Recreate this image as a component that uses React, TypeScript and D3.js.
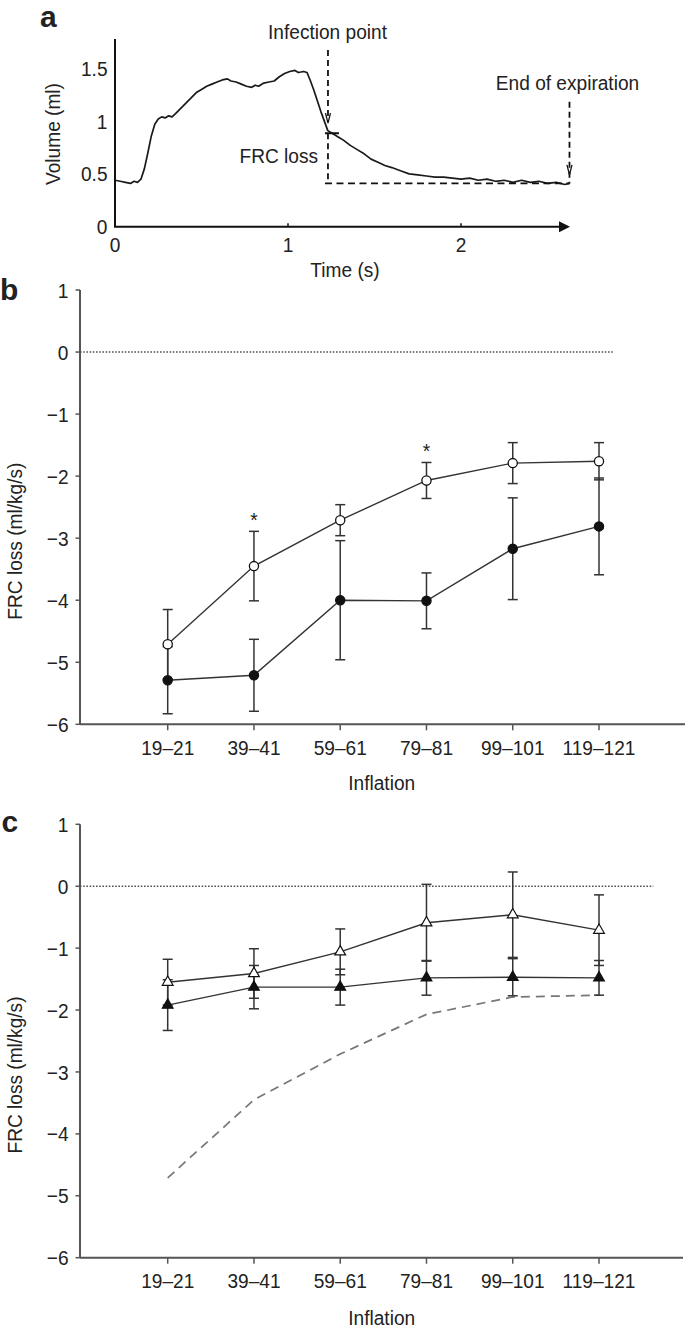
import React from 'react';
import * as d3 from 'd3';

// ---------- Panel a: volume trace ----------
const timeS = [0.0, 0.03, 0.06, 0.09, 0.11, 0.13, 0.15, 0.17, 0.19, 0.21, 0.23, 0.25, 0.27, 0.29, 0.31, 0.33, 0.35, 0.38, 0.41, 0.44, 0.47, 0.5, 0.53, 0.56, 0.59, 0.62, 0.65, 0.67, 0.7, 0.73, 0.76, 0.79, 0.81, 0.83, 0.86, 0.89, 0.92, 0.95, 0.98, 1.01, 1.04, 1.06, 1.09, 1.11, 1.13, 1.15, 1.17, 1.19, 1.21, 1.23, 1.26, 1.29, 1.32, 1.36, 1.4, 1.44, 1.48, 1.52, 1.56, 1.6, 1.65, 1.7, 1.75, 1.8, 1.85, 1.9, 1.95, 2.0, 2.05, 2.1, 2.15, 2.2, 2.25, 2.3, 2.35, 2.4, 2.45, 2.5, 2.55, 2.6, 2.627];
const volumeMl = [0.44, 0.43, 0.42, 0.41, 0.43, 0.42, 0.45, 0.55, 0.7, 0.86, 0.97, 1.02, 1.04, 1.03, 1.05, 1.04, 1.07, 1.12, 1.17, 1.22, 1.27, 1.3, 1.33, 1.35, 1.37, 1.39, 1.4, 1.38, 1.37, 1.35, 1.33, 1.32, 1.34, 1.33, 1.36, 1.37, 1.38, 1.42, 1.45, 1.47, 1.48, 1.46, 1.47, 1.46, 1.38, 1.29, 1.19, 1.09, 1.0, 0.91, 0.88, 0.85, 0.82, 0.77, 0.73, 0.69, 0.64, 0.61, 0.58, 0.56, 0.53, 0.5, 0.49, 0.48, 0.47, 0.47, 0.46, 0.45, 0.46, 0.44, 0.45, 0.43, 0.44, 0.42, 0.44, 0.42, 0.43, 0.41, 0.42, 0.4, 0.41];
const timeTicks = [0, 1, 2];
const volumeTicks = [0, 0.5, 1, 1.5];
const timeAxisEnd = 2.63;
const infectionTime = 1.231;
const endExpTime = 2.627;
const frcTopVol = 0.885;
const frcBottomVol = 0.41;

// ---------- Panels b and c ----------
const inflations = ['19–21', '39–41', '59–61', '79–81', '99–101', '119–121'];
const frcTicks = [1, 0, -1, -2, -3, -4, -5, -6];
// panel b
const openCircleMean = [-4.71, -3.45, -2.71, -2.07, -1.79, -1.76];
const openCircleSE = [0.56, 0.56, 0.25, 0.29, 0.33, 0.3];
const filledCircleMean = [-5.29, -5.21, -4.0, -4.01, -3.17, -2.81];
const filledCircleSE = [0.54, 0.58, 0.96, 0.45, 0.82, 0.78];
const significantB = ['39–41', '79–81'];
// panel c
const openTriangleMean = [-1.55, -1.41, -1.06, -0.59, -0.46, -0.71];
const openTriangleSE = [0.37, 0.4, 0.37, 0.62, 0.69, 0.57];
const filledTriangleMean = [-1.92, -1.63, -1.63, -1.48, -1.47, -1.48];
const filledTriangleSE = [0.41, 0.35, 0.29, 0.28, 0.3, 0.28];

const FONT = '"Liberation Sans", Arial, Helvetica, sans-serif';
const LINE = '#333';
const FS = 21;
const SQ = 0.91;

type Series = { mean: number[]; se: number[]; marker: 'circle' | 'triangle'; filled: boolean };

function T(props: { x: number; y: number; anchor?: 'start' | 'middle' | 'end'; rotate?: boolean; dy?: string; children: React.ReactNode }) {
  const tr = `translate(${props.x},${props.y})${props.rotate ? ' rotate(-90)' : ''} scale(${SQ},1)`;
  return (
    <text transform={tr} dy={props.dy} textAnchor={props.anchor || 'start'} fontSize={FS} fontFamily={FONT} fill="#222">
      {props.children}
    </text>
  );
}

function PanelA() {
  const x = d3.scaleLinear().domain([0, timeAxisEnd]).range([115, 570]);
  const y = d3.scaleLinear().domain([0, 1.5]).range([226.7, 68.3]);
  const line = d3.line<number>().x((_, i) => x(timeS[i])).y((v) => y(v));
  const xi = x(infectionTime);
  const xe = x(endExpTime);
  return (
    <g>
      <text x={40} y={27} fontSize={30} fontWeight="bold" fontFamily={FONT} fill="#222">a</text>
      {/* axes */}
      <line x1={x(0)} x2={x(0)} y1={39} y2={y(0)} stroke="#111" strokeWidth={2} />
      <line x1={x(0) - 1} x2={x(timeAxisEnd) - 8} y1={y(0)} y2={y(0)} stroke="#111" strokeWidth={2} />
      <path d={`M${x(timeAxisEnd) - 11},${y(0) - 5.5}L${x(timeAxisEnd)},${y(0)}L${x(timeAxisEnd) - 11},${y(0) + 5.5}Z`} fill="#111" />
      {timeTicks.map((t) => (
        <g key={t}>
          <line x1={x(t)} x2={x(t)} y1={y(0)} y2={y(0) - 3.5} stroke="#111" strokeWidth={1.5} />
          <T x={x(t)} y={252.3} anchor="middle">{t}</T>
        </g>
      ))}
      {volumeTicks.map((v) => (
        <T key={v} x={107.5} y={y(v)} dy="0.36em" anchor="end">{v}</T>
      ))}
      <T x={60} y={134} rotate anchor="middle">Volume (ml)</T>
      <T x={345} y={277} anchor="middle">Time (s)</T>
      {/* trace */}
      <path d={line(volumeMl) || ''} fill="none" stroke="#1a1a1a" strokeWidth={1.7} strokeLinejoin="round" />
      {/* infection point annotation */}
      <T x={327.5} y={38.5} anchor="middle">Infection point</T>
      <line x1={xi} x2={xi} y1={50} y2={y(0.98) - 2} stroke="#111" strokeWidth={1.8} strokeDasharray="6 4" />
      <path d={`M${xi - 2.5},${y(0.98) - 10}L${xi},${y(0.98)}L${xi + 2.5},${y(0.98) - 10}`} fill="none" stroke="#111" strokeWidth={1.3} />
      <line x1={xi} x2={xi} y1={y(frcTopVol)} y2={y(frcBottomVol)} stroke="#111" strokeWidth={1.8} strokeDasharray="6 4" />
      <line x1={xi - 3} x2={xi + 11} y1={y(frcTopVol)} y2={y(frcTopVol)} stroke="#111" strokeWidth={2} />
      <line x1={xi - 3} x2={xe} y1={y(frcBottomVol)} y2={y(frcBottomVol)} stroke="#111" strokeWidth={1.8} strokeDasharray="7 4.5" />
      <T x={318} y={163.3} anchor="end">FRC loss</T>
      {/* end of expiration annotation */}
      <T x={567.5} y={90} anchor="middle">End of expiration</T>
      <line x1={xe} x2={xe} y1={101.7} y2={y(frcBottomVol)} stroke="#111" strokeWidth={1.8} strokeDasharray="6 4" />
      <path d={`M${xe - 2.5},${y(0.49) - 10}L${xe},${y(0.49)}L${xe + 2.5},${y(0.49) - 10}`} fill="none" stroke="#111" strokeWidth={1.3} />
    </g>
  );
}

function FrcPanel(props: {
  letter: string;
  letterX: number;
  letterY: number;
  yTop: number;
  yBottom: number;
  axisEnd: number;
  zeroEnd: number;
  tickBaseline: number;
  titleBaseline: number;
  series: Series[];
  reference?: number[];
  stars?: string[];
  starSeries?: Series;
}) {
  const { yTop, yBottom } = props;
  const x = d3.scalePoint<string>().domain(inflations).range([167.7, 599]);
  const y = d3.scaleLinear().domain([-6, 1]).range([yBottom, yTop]);
  const line = d3.line<number>().x((_, i) => x(inflations[i]) as number).y((v) => y(v));
  const x0 = 80;
  const midY = (y(1) + y(-6)) / 2 + 34;
  return (
    <g>
      <text x={props.letterX} y={props.letterY} fontSize={30} fontWeight="bold" fontFamily={FONT} fill="#222">{props.letter}</text>
      {/* zero reference */}
      <line x1={x0} x2={props.zeroEnd} y1={y(0)} y2={y(0)} stroke="#555" strokeWidth={1.5} strokeDasharray="1.6 1.6" />
      {/* axes */}
      <line x1={x0} x2={x0} y1={y(1)} y2={y(-6)} stroke="#555" strokeWidth={2} />
      <line x1={x0} x2={props.axisEnd} y1={y(-6)} y2={y(-6)} stroke="#555" strokeWidth={2} />
      {frcTicks.map((t) => (
        <g key={t}>
          <line x1={x0 - 4.5} x2={x0} y1={y(t)} y2={y(t)} stroke="#555" strokeWidth={1.5} />
          <T x={68.5} y={y(t)} dy="0.36em" anchor="end">{t < 0 ? `−${-t}` : `${t}`}</T>
        </g>
      ))}
      {inflations.map((c) => (
        <g key={c}>
          <line x1={x(c)} x2={x(c)} y1={y(-6)} y2={y(-6) + 6} stroke="#555" strokeWidth={1.5} />
          <T x={x(c) as number} y={props.tickBaseline} anchor="middle">{c}</T>
        </g>
      ))}
      <T x={381.7} y={props.titleBaseline} anchor="middle">Inflation</T>
      <T x={22} y={midY} rotate anchor="middle">FRC loss (ml/kg/s)</T>
      {props.reference && (
        <path d={line(props.reference) || ''} fill="none" stroke="#777" strokeWidth={1.7} strokeDasharray="9 6" />
      )}
      {/* error bars */}
      {props.series.map((s, si) =>
        s.mean.map((m, i) => {
          const cx = x(inflations[i]) as number;
          const yu = y(m + s.se[i]);
          const yl = y(m - s.se[i]);
          return (
            <g key={`e${si}-${i}`} stroke={LINE} strokeWidth={1.5}>
              <line x1={cx} x2={cx} y1={yu} y2={yl} />
              <line x1={cx - 5} x2={cx + 5} y1={yu} y2={yu} />
              <line x1={cx - 5} x2={cx + 5} y1={yl} y2={yl} />
            </g>
          );
        })
      )}
      {/* connecting lines */}
      {props.series.map((s, si) => (
        <path key={`l${si}`} d={line(s.mean) || ''} fill="none" stroke={LINE} strokeWidth={1.4} />
      ))}
      {/* markers */}
      {props.series.map((s, si) =>
        s.mean.map((m, i) => {
          const cx = x(inflations[i]) as number;
          const cy = y(m);
          if (s.marker === 'circle') {
            return (
              <circle key={`m${si}-${i}`} cx={cx} cy={cy} r={4.6} fill={s.filled ? '#111' : '#fff'} stroke="#111" strokeWidth={1.3} />
            );
          }
          const tri = d3.symbol().type(d3.symbolTriangle).size(50)() || '';
          return (
            <path key={`m${si}-${i}`} d={tri} transform={`translate(${cx},${cy})`} fill={s.filled ? '#111' : '#fff'} stroke="#111" strokeWidth={1.2} />
          );
        })
      )}
      {/* significance stars */}
      {props.stars && props.starSeries &&
        props.stars.map((c) => {
          const i = inflations.indexOf(c);
          const s = props.starSeries!;
          return (
            <T key={`s${c}`} x={x(c) as number} y={y(s.mean[i] + s.se[i]) - 4} anchor="middle">*</T>
          );
        })}
    </g>
  );
}

export default function App() {
  const openCircles: Series = { mean: openCircleMean, se: openCircleSE, marker: 'circle', filled: false };
  const filledCircles: Series = { mean: filledCircleMean, se: filledCircleSE, marker: 'circle', filled: true };
  const openTriangles: Series = { mean: openTriangleMean, se: openTriangleSE, marker: 'triangle', filled: false };
  const filledTriangles: Series = { mean: filledTriangleMean, se: filledTriangleSE, marker: 'triangle', filled: true };
  return (
    <svg
      width={685}
      height={1330}
      viewBox="0 0 685 1330"
      style={{ position: 'absolute', left: 0, top: 0, display: 'block', background: '#fff' }}
    >
      <rect x={0} y={0} width={685} height={1330} fill="#fff" />
      <PanelA />
      <FrcPanel
        letter="b"
        letterX={0}
        letterY={300}
        yTop={290}
        yBottom={724.3}
        axisEnd={685}
        zeroEnd={613.3}
        tickBaseline={755}
        titleBaseline={790}
        series={[filledCircles, openCircles]}
        stars={significantB}
        starSeries={openCircles}
      />
      <FrcPanel
        letter="c"
        letterX={1.5}
        letterY={831.5}
        yTop={824.3}
        yBottom={1257.7}
        axisEnd={683}
        zeroEnd={653.3}
        tickBaseline={1288.3}
        titleBaseline={1325}
        series={[filledTriangles, openTriangles]}
        reference={openCircleMean}
      />
    </svg>
  );
}
